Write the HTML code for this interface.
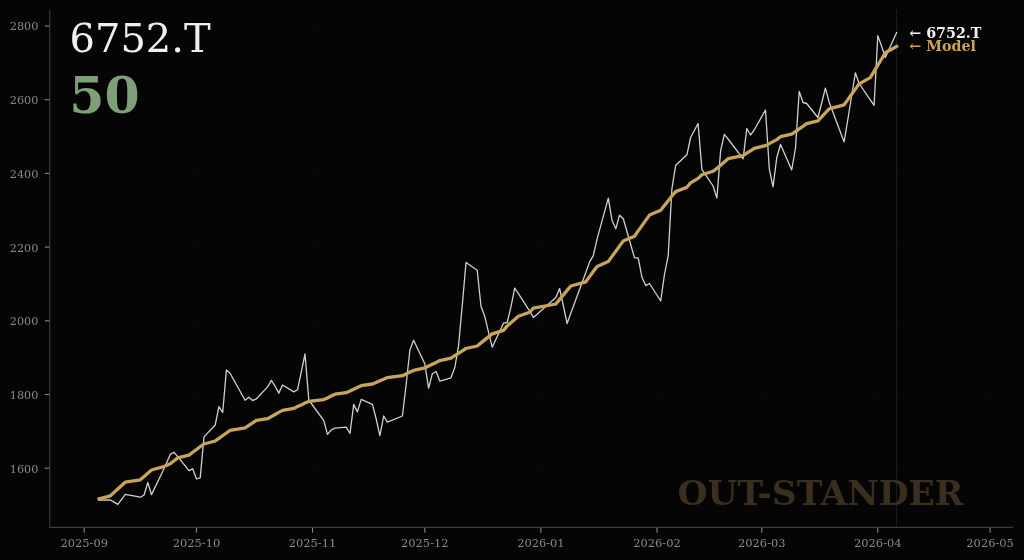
<!DOCTYPE html>
<html><head><meta charset="utf-8"><title>6752.T</title>
<style>html,body{margin:0;padding:0;background:#050505;overflow:hidden}svg text{white-space:pre}</style></head>
<body>
<svg width="1024" height="560" viewBox="0 0 1024 560" style="display:block">
<rect width="1024" height="560" fill="#050505"/>
<line x1="49.75" x2="1012.9" y1="468.2" y2="468.2" stroke="#141414" stroke-width="0.7" stroke-dasharray="0.8 1.2"/>
<line x1="49.75" x2="1012.9" y1="394.5" y2="394.5" stroke="#141414" stroke-width="0.7" stroke-dasharray="0.8 1.2"/>
<line x1="49.75" x2="1012.9" y1="320.8" y2="320.8" stroke="#141414" stroke-width="0.7" stroke-dasharray="0.8 1.2"/>
<line x1="49.75" x2="1012.9" y1="247.1" y2="247.1" stroke="#141414" stroke-width="0.7" stroke-dasharray="0.8 1.2"/>
<line x1="49.75" x2="1012.9" y1="173.4" y2="173.4" stroke="#141414" stroke-width="0.7" stroke-dasharray="0.8 1.2"/>
<line x1="49.75" x2="1012.9" y1="99.7" y2="99.7" stroke="#141414" stroke-width="0.7" stroke-dasharray="0.8 1.2"/>
<line x1="49.75" x2="1012.9" y1="26.0" y2="26.0" stroke="#141414" stroke-width="0.7" stroke-dasharray="0.8 1.2"/>
<line x1="84.2" x2="84.2" y1="9.8" y2="527.4" stroke="#141414" stroke-width="0.7" stroke-dasharray="0.8 1.2"/>
<line x1="196.5" x2="196.5" y1="9.8" y2="527.4" stroke="#141414" stroke-width="0.7" stroke-dasharray="0.8 1.2"/>
<line x1="312.5" x2="312.5" y1="9.8" y2="527.4" stroke="#141414" stroke-width="0.7" stroke-dasharray="0.8 1.2"/>
<line x1="424.8" x2="424.8" y1="9.8" y2="527.4" stroke="#141414" stroke-width="0.7" stroke-dasharray="0.8 1.2"/>
<line x1="540.9" x2="540.9" y1="9.8" y2="527.4" stroke="#141414" stroke-width="0.7" stroke-dasharray="0.8 1.2"/>
<line x1="657.0" x2="657.0" y1="9.8" y2="527.4" stroke="#141414" stroke-width="0.7" stroke-dasharray="0.8 1.2"/>
<line x1="761.8" x2="761.8" y1="9.8" y2="527.4" stroke="#141414" stroke-width="0.7" stroke-dasharray="0.8 1.2"/>
<line x1="877.8" x2="877.8" y1="9.8" y2="527.4" stroke="#141414" stroke-width="0.7" stroke-dasharray="0.8 1.2"/>
<line x1="990.1" x2="990.1" y1="9.8" y2="527.4" stroke="#141414" stroke-width="0.7" stroke-dasharray="0.8 1.2"/>
<line x1="896.6" x2="896.6" y1="9.8" y2="527.4" stroke="#424242" stroke-width="0.9" stroke-dasharray="0.9 1.1"/>
<text x="963.4" y="504.7" text-anchor="end" font-family="'DejaVu Serif','Liberation Serif',serif" font-weight="bold" font-size="34.45" fill="#3a2f1e">OUT-STANDER</text>
<polyline points="99.1,500.2 110.4,500.0 114.1,502.1 117.8,504.4 121.6,499.4 125.3,494.4 140.3,497.2 144.1,495.0 147.8,482.5 151.5,494.6 162.8,471.3 170.3,454.4 174.0,452.2 177.7,456.6 189.0,470.6 192.7,468.8 196.5,479.0 200.2,477.9 204.0,436.9 215.2,425.0 218.9,406.7 222.7,412.5 226.4,370.0 230.2,373.5 245.1,400.2 248.9,397.2 252.6,400.6 256.4,398.8 267.6,386.9 271.3,380.4 275.1,386.2 278.8,393.1 282.6,385.0 293.8,391.9 297.5,389.8 301.3,371.9 305.0,354.0 308.8,400.0 323.8,420.6 327.5,434.4 331.2,430.0 335.0,428.1 346.2,427.2 350.0,433.5 353.7,404.4 357.4,411.9 361.2,399.4 372.4,404.4 376.2,419.0 379.9,435.6 383.7,416.0 387.4,422.2 402.4,416.0 406.1,385.0 409.9,350.0 413.6,340.2 424.8,363.8 428.6,388.1 432.3,373.8 436.1,371.5 439.8,381.0 451.0,377.8 454.8,367.5 458.5,346.2 462.3,305.0 466.0,262.5 477.2,270.2 481.0,306.2 484.7,316.2 488.5,332.2 492.2,347.2 503.5,323.2 507.2,322.5 510.9,307.2 514.7,288.1 518.4,293.6 529.7,311.2 533.4,317.5 555.9,297.5 559.6,288.5 563.4,306.0 567.1,323.5 570.8,313.2 585.8,272.5 589.6,261.9 593.3,255.6 597.1,238.8 608.3,198.1 612.0,220.2 615.8,228.8 619.5,215.2 623.3,218.8 634.5,257.8 638.2,257.8 642.0,277.5 645.7,285.6 649.5,283.5 660.7,301.0 664.4,275.0 668.2,255.6 671.9,188.8 675.7,165.2 686.9,154.8 690.6,137.5 698.1,123.5 701.9,169.4 713.1,186.0 716.9,198.1 720.6,151.0 724.3,134.4 728.1,139.0 743.1,158.8 746.8,128.5 750.5,135.0 754.3,129.8 765.5,110.0 769.3,168.8 773.0,186.9 776.8,157.5 780.5,144.5 791.7,170.0 795.5,148.0 799.2,91.5 803.0,102.5 806.7,103.5 817.9,117.5 821.7,103.0 825.4,88.1 829.2,102.3 844.1,141.9 847.9,119.0 851.6,96.0 855.4,72.8 859.1,83.5 870.3,99.8 874.1,105.3 877.8,35.6 881.6,46.2 885.3,57.5 896.6,32.5" fill="none" stroke="#d0d0d0" stroke-width="1.3" stroke-linejoin="round" stroke-linecap="square"/>
<polyline points="99.1,498.9 110.4,495.8 114.1,492.4 117.8,489.0 121.6,485.6 125.3,482.2 140.3,479.8 144.1,476.5 147.8,473.2 151.5,470.0 162.8,466.9 170.3,463.8 174.0,460.8 177.7,457.9 189.0,455.1 192.7,452.3 196.5,449.5 200.2,446.7 204.0,444.0 215.2,441.0 218.9,438.3 222.7,435.7 226.4,433.0 230.2,430.4 245.1,427.9 248.9,425.4 252.6,422.9 256.4,420.4 267.6,418.7 271.3,416.6 275.1,414.5 278.8,412.4 282.6,410.4 293.8,408.4 297.5,406.6 301.3,404.9 305.0,403.1 308.8,401.4 323.8,399.6 327.5,397.9 331.2,396.1 335.0,394.2 346.2,392.7 350.0,390.9 353.7,389.2 357.4,387.4 361.2,385.7 372.4,384.0 376.2,382.4 379.9,380.8 383.7,379.2 387.4,377.6 402.4,375.7 406.1,373.9 409.9,372.1 413.6,370.4 424.8,367.9 428.6,366.0 432.3,364.2 436.1,362.4 439.8,360.6 451.0,358.1 454.8,355.7 458.5,353.3 462.3,350.9 466.0,348.5 477.2,346.0 481.0,342.9 484.7,339.9 488.5,336.9 492.2,333.9 503.5,330.4 507.2,325.9 510.9,322.7 514.7,319.4 518.4,316.2 529.7,312.2 533.4,308.2 555.9,304.0 559.6,299.4 563.4,294.9 567.1,290.4 570.8,286.0 585.8,281.8 589.6,276.6 593.3,271.5 597.1,266.4 608.3,261.6 612.0,256.4 615.8,251.3 619.5,246.1 623.3,240.9 634.5,236.2 638.2,230.9 642.0,225.6 645.7,220.4 649.5,215.1 660.7,210.3 664.4,205.5 668.2,200.8 671.9,195.9 675.7,191.6 686.9,187.2 690.6,182.8 698.1,178.4 701.9,174.8 713.1,171.3 716.9,168.4 720.6,165.2 724.3,161.9 728.1,158.7 743.1,155.6 746.8,153.2 750.5,150.8 754.3,148.3 765.5,145.6 769.3,143.6 773.0,141.6 776.8,139.6 780.5,136.7 791.7,134.2 795.5,131.6 799.2,128.9 803.0,126.3 806.7,123.7 817.9,120.9 821.7,116.9 825.4,112.9 829.2,108.9 844.1,104.8 847.9,99.6 851.6,94.3 855.4,89.1 859.1,83.9 870.3,77.6 874.1,71.4 877.8,65.2 881.6,59.0 885.3,52.8 896.6,46.4" fill="none" stroke="#c9a45a" stroke-width="3.3" stroke-linejoin="round" stroke-linecap="square"/>
<line x1="49.75" x2="49.75" y1="9.8" y2="527.9" stroke="#3c3c3c" stroke-width="1.1"/>
<line x1="49.25" x2="1012.9" y1="527.4" y2="527.4" stroke="#3c3c3c" stroke-width="1.1"/>
<line x1="44.85" x2="49.25" y1="468.2" y2="468.2" stroke="#888888" stroke-width="1.1"/>
<text x="38.3" y="472.6" text-anchor="end" font-family="'DejaVu Serif','Liberation Serif',serif" font-size="11.2" fill="#888888">1600</text>
<line x1="44.85" x2="49.25" y1="394.5" y2="394.5" stroke="#888888" stroke-width="1.1"/>
<text x="38.3" y="398.9" text-anchor="end" font-family="'DejaVu Serif','Liberation Serif',serif" font-size="11.2" fill="#888888">1800</text>
<line x1="44.85" x2="49.25" y1="320.8" y2="320.8" stroke="#888888" stroke-width="1.1"/>
<text x="38.3" y="325.2" text-anchor="end" font-family="'DejaVu Serif','Liberation Serif',serif" font-size="11.2" fill="#888888">2000</text>
<line x1="44.85" x2="49.25" y1="247.1" y2="247.1" stroke="#888888" stroke-width="1.1"/>
<text x="38.3" y="251.5" text-anchor="end" font-family="'DejaVu Serif','Liberation Serif',serif" font-size="11.2" fill="#888888">2200</text>
<line x1="44.85" x2="49.25" y1="173.4" y2="173.4" stroke="#888888" stroke-width="1.1"/>
<text x="38.3" y="177.8" text-anchor="end" font-family="'DejaVu Serif','Liberation Serif',serif" font-size="11.2" fill="#888888">2400</text>
<line x1="44.85" x2="49.25" y1="99.7" y2="99.7" stroke="#888888" stroke-width="1.1"/>
<text x="38.3" y="104.1" text-anchor="end" font-family="'DejaVu Serif','Liberation Serif',serif" font-size="11.2" fill="#888888">2600</text>
<line x1="44.85" x2="49.25" y1="26.0" y2="26.0" stroke="#888888" stroke-width="1.1"/>
<text x="38.3" y="30.4" text-anchor="end" font-family="'DejaVu Serif','Liberation Serif',serif" font-size="11.2" fill="#888888">2800</text>
<line x1="84.2" x2="84.2" y1="527.9" y2="532.6999999999999" stroke="#888888" stroke-width="1.1"/>
<text x="84.2" y="547.1" text-anchor="middle" font-family="'DejaVu Serif','Liberation Serif',serif" font-size="11.45" fill="#888888">2025-09</text>
<line x1="196.5" x2="196.5" y1="527.9" y2="532.6999999999999" stroke="#888888" stroke-width="1.1"/>
<text x="196.5" y="547.1" text-anchor="middle" font-family="'DejaVu Serif','Liberation Serif',serif" font-size="11.45" fill="#888888">2025-10</text>
<line x1="312.5" x2="312.5" y1="527.9" y2="532.6999999999999" stroke="#888888" stroke-width="1.1"/>
<text x="312.5" y="547.1" text-anchor="middle" font-family="'DejaVu Serif','Liberation Serif',serif" font-size="11.45" fill="#888888">2025-11</text>
<line x1="424.8" x2="424.8" y1="527.9" y2="532.6999999999999" stroke="#888888" stroke-width="1.1"/>
<text x="424.8" y="547.1" text-anchor="middle" font-family="'DejaVu Serif','Liberation Serif',serif" font-size="11.45" fill="#888888">2025-12</text>
<line x1="540.9" x2="540.9" y1="527.9" y2="532.6999999999999" stroke="#888888" stroke-width="1.1"/>
<text x="540.9" y="547.1" text-anchor="middle" font-family="'DejaVu Serif','Liberation Serif',serif" font-size="11.45" fill="#888888">2026-01</text>
<line x1="657.0" x2="657.0" y1="527.9" y2="532.6999999999999" stroke="#888888" stroke-width="1.1"/>
<text x="657.0" y="547.1" text-anchor="middle" font-family="'DejaVu Serif','Liberation Serif',serif" font-size="11.45" fill="#888888">2026-02</text>
<line x1="761.8" x2="761.8" y1="527.9" y2="532.6999999999999" stroke="#888888" stroke-width="1.1"/>
<text x="761.8" y="547.1" text-anchor="middle" font-family="'DejaVu Serif','Liberation Serif',serif" font-size="11.45" fill="#888888">2026-03</text>
<line x1="877.8" x2="877.8" y1="527.9" y2="532.6999999999999" stroke="#888888" stroke-width="1.1"/>
<text x="877.8" y="547.1" text-anchor="middle" font-family="'DejaVu Serif','Liberation Serif',serif" font-size="11.45" fill="#888888">2026-04</text>
<line x1="990.1" x2="990.1" y1="527.9" y2="532.6999999999999" stroke="#888888" stroke-width="1.1"/>
<text x="990.1" y="547.1" text-anchor="middle" font-family="'DejaVu Serif','Liberation Serif',serif" font-size="11.45" fill="#888888">2026-05</text>
<text x="69.5" y="51.8" font-family="'DejaVu Serif','Liberation Serif',serif" font-size="40" fill="#f0f0f0">6752.T</text>
<text x="69.2" y="112.6" font-family="'DejaVu Serif','Liberation Serif',serif" font-weight="bold" font-size="50.67" fill="#7f9f78">50</text>
<text x="909.3" y="37.9" font-family="'DejaVu Serif','Liberation Serif',serif" font-weight="bold" font-size="14.25" fill="#f0f0f0">← 6752.T</text>
<text x="909.3" y="50.5" font-family="'DejaVu Serif','Liberation Serif',serif" font-weight="bold" font-size="14.25" fill="#c9a45a">← Model</text>
</svg>
</body></html>
